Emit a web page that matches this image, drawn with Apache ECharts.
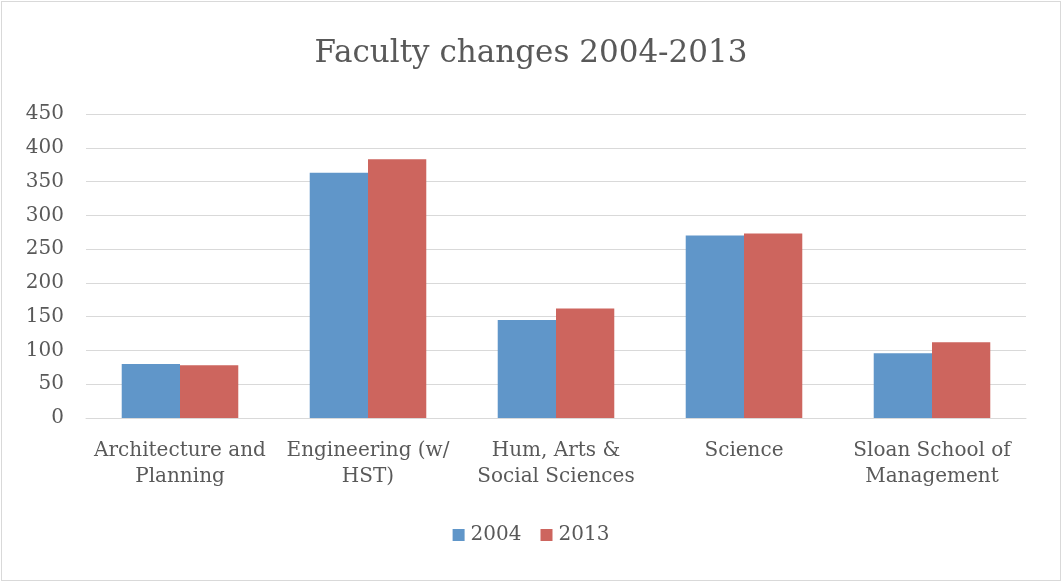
<!DOCTYPE html>
<html>
<head>
<meta charset="utf-8">
<script src="https://cdn.jsdelivr.net/npm/echarts@6/dist/echarts.min.js"></script>
<style>
html,body{margin:0;padding:0;background:#fff;}
#c{position:absolute;left:1px;top:1px;width:1058px;height:578px;border:1px solid #d9d9d9;}
</style>
</head>
<body>
<div id="c"></div>
<script>
var categories = ['Architecture and\nPlanning', 'Engineering (w/\nHST)', 'Hum, Arts &\nSocial Sciences', 'Science', 'Sloan School of\nManagement'];
var values2004 = [80, 363, 145, 270, 96];
var values2013 = [78, 383, 162, 273, 112];
var seriesNames = ['2004', '2013'];

var font = 'DejaVu Serif, serif';
var chart = echarts.init(document.getElementById('c'));
chart.setOption({
  animation: false,
  title: {
    text: 'Faculty changes 2004-2013',
    left: 'center', top: 31,
    textStyle: {fontFamily: font, fontSize: 31, fontWeight: 'normal', color: '#595959'}
  },
  legend: {
    data: seriesNames,
    bottom: 30, left: 'center',
    itemWidth: 12, itemHeight: 12, itemGap: 19,
    icon: 'rect',
    textStyle: {fontFamily: font, fontSize: 20, color: '#595959', padding: [0, 0, 0, 1]}
  },
  grid: {left: 84, right: 34, top: 112, bottom: 162},
  xAxis: {
    type: 'category', data: categories,
    axisLine: {lineStyle: {color: '#d9d9d9', width: 1}},
    axisTick: {show: false},
    axisLabel: {fontFamily: font, fontSize: 20, color: '#595959', margin: 20, lineHeight: 26, interval: 0}
  },
  yAxis: {
    type: 'value', min: 0, max: 450, interval: 50,
    axisLine: {show: false}, axisTick: {show: false},
    splitLine: {lineStyle: {color: '#d9d9d9', width: 1}},
    axisLabel: {fontFamily: font, fontSize: 20, color: '#595959', margin: 22}
  },
  series: [
    {name: seriesNames[0], type: 'bar', data: values2004, barWidth: '31%', barGap: '0%',
     itemStyle: {color: '#6096c9'}},
    {name: seriesNames[1], type: 'bar', data: values2013, barWidth: '31%',
     itemStyle: {color: '#cd655e'}}
  ]
});
</script>
</body>
</html>
